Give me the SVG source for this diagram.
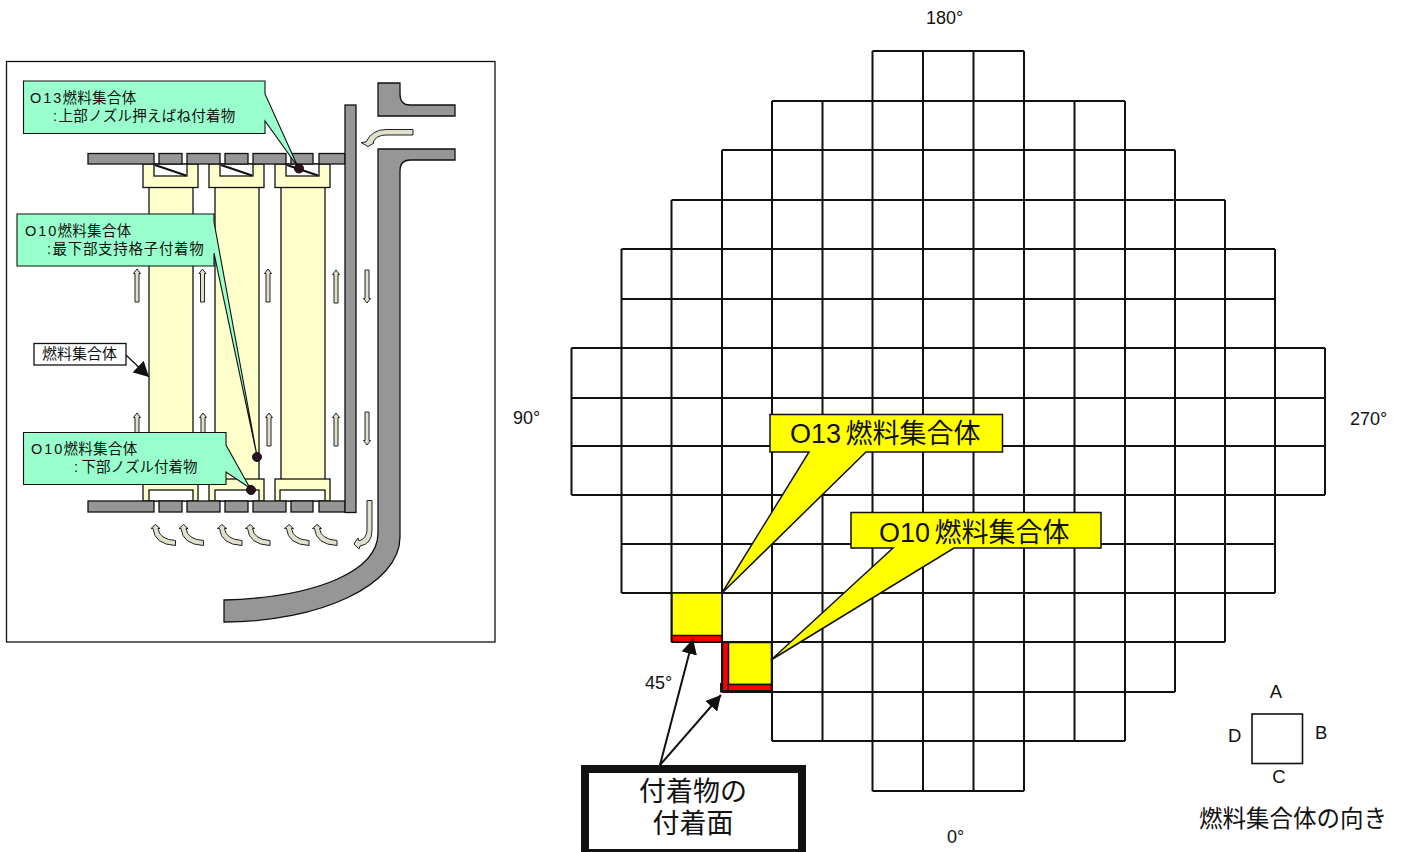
<svg xmlns="http://www.w3.org/2000/svg" width="1405" height="852" viewBox="0 0 1405 852">
<style>
text{font-family:"Liberation Sans","Noto Sans CJK JP",sans-serif;fill:#111}
.cjk{font-family:"Noto Sans CJK JP","Liberation Sans",sans-serif}
.s{font-size:14.5px}
.ax{font-size:18px}
.big{font-size:27px}
.gray{fill:#969696;stroke:#111;stroke-width:1.3}
.cream{fill:#ffffcc;stroke:#111;stroke-width:1.3}
.white{fill:#fff;stroke:#111;stroke-width:1.3}
.flow{fill:#e0e0cc;stroke:#222;stroke-width:1}
.note{fill:#99ffcc;stroke:#111;stroke-width:1.1}
.yel{fill:#ff0;stroke:#111;stroke-width:1.5}
.red{fill:#f00;stroke:#111;stroke-width:1.5}
.dot{fill:#2a1020;stroke:#111;stroke-width:1}
.ln{fill:none;stroke:#111;stroke-width:2}
</style>
<defs>
<marker id="head" markerUnits="userSpaceOnUse" markerWidth="16" markerHeight="16" refX="15" refY="8" orient="auto"><path d="M0,0L15,8L0,16Z" fill="#111"/></marker>
<path id="up" class="flow" d="M0,0L3.5,4.5H2V33H-2V4.5H-3.5Z"/>
<path id="dn" class="flow" d="M0,33L3.5,28.5H2V0H-2V28.5H-3.5Z"/>
<path id="cv" class="flow" d="M0,0L4.5,4H2.5Q4,15 20,16V21Q-1,20 -2.5,4H-4.5Z"/>
</defs>
<rect width="1405" height="852" fill="#fff"/>
<g id="section-frame"><rect x="6.5" y="61.5" width="488.5" height="580.5" fill="#fff" stroke="#111" stroke-width="1.3"/></g>
<g id="fuel-assembly-1">
<rect class="cream" x="149" y="187" width="44" height="293"/>
<rect class="cream" x="143" y="164" width="55" height="23.5"/><rect class="white" x="154" y="164" width="33" height="12"/><path d="M155,165L186,175.5" stroke="#111" stroke-width="2"/>
<rect class="cream" x="143" y="479" width="55" height="22"/><rect class="white" x="149" y="490" width="44" height="11"/>
</g>
<g id="fuel-assembly-2">
<rect class="cream" x="215" y="187" width="44" height="293"/>
<rect class="cream" x="209" y="164" width="55" height="23.5"/><rect class="white" x="220" y="164" width="33" height="12"/><path d="M221,165L252,175.5" stroke="#111" stroke-width="2"/>
<rect class="cream" x="209" y="479" width="55" height="22"/><rect class="white" x="215" y="490" width="44" height="11"/>
</g>
<g id="fuel-assembly-3">
<rect class="cream" x="281" y="187" width="44" height="293"/>
<rect class="cream" x="275" y="164" width="55" height="23.5"/><rect class="white" x="286" y="164" width="33" height="12"/><path d="M287,165L318,175.5" stroke="#111" stroke-width="2"/>
<rect class="cream" x="275" y="479" width="55" height="22"/><rect class="white" x="280" y="490" width="45" height="11"/>
</g>
<g id="upper-plate">
<rect class="gray" x="88" y="153.5" width="66" height="10.5"/><rect class="gray" x="159" y="153.5" width="23" height="10.5"/><rect class="gray" x="187" y="153.5" width="33" height="10.5"/><rect class="gray" x="225" y="153.5" width="23" height="10.5"/><rect class="gray" x="253" y="153.5" width="33" height="10.5"/><rect class="gray" x="291" y="153.5" width="22" height="10.5"/><rect class="gray" x="319" y="153.5" width="26" height="10.5"/>
</g>
<g id="lower-plate">
<rect class="gray" x="88" y="501" width="66" height="11"/><rect class="gray" x="159" y="501" width="23" height="11"/><rect class="gray" x="187" y="501" width="33" height="11"/><rect class="gray" x="225" y="501" width="23" height="11"/><rect class="gray" x="253" y="501" width="33" height="11"/><rect class="gray" x="291" y="501" width="22" height="11"/><rect class="gray" x="319" y="501" width="26" height="11"/>
</g>
<g id="core-barrel"><rect class="gray" x="345" y="105" width="11" height="407.5"/></g>
<g id="vessel">
<path class="gray" d="M378,116V83H400V94Q400,105 410,105H455V116Z"/>
<path class="gray" d="M378,149H455V160H410Q400,160 400,171V537C400,585 320,622 224,622V600C320,597 378,570 378,533Z"/>
</g>
<g id="flow-arrows">
<use href="#up" x="137" y="269"/><use href="#up" x="202.5" y="269"/><use href="#up" x="268" y="269"/><use href="#up" x="336" y="270"/><use href="#dn" x="367" y="270"/>
<use href="#up" x="137" y="413"/><use href="#up" x="203" y="413"/><use href="#up" x="269" y="413"/><use href="#up" x="336" y="413"/><use href="#dn" x="367" y="412"/>
<use href="#cv" x="155.5" y="524.5"/><use href="#cv" x="183.5" y="524.5"/><use href="#cv" x="222" y="524.5"/><use href="#cv" x="250" y="524.5"/><use href="#cv" x="289" y="524.5"/><use href="#cv" x="317" y="524.5"/>
<path class="flow" d="M367,500.5H372V530Q372,544 360,546L359,549L354,544L358,538L359,541Q367,538 367,530Z"/>
<path class="flow" d="M413,129.5V135H386Q376,135 373,142.5L374,143L368,146.5L361,142.5L366,142Q372,129.5 386,129.5Z"/>
</g>
<g id="label-o13-spring">
<path class="note" d="M23.5,81H265V94L298,167L265,121V133.5H23.5Z"/>
<text class="s" x="30" y="103"><tspan letter-spacing="2">O13</tspan><tspan class="cjk" x="62.5" letter-spacing=".3">燃料集合体</tspan></text>
<text class="s" x="53" y="121">:<tspan x="58.5" letter-spacing=".25">上部ノズル押えばね付着物</tspan></text>
</g>
<g id="label-o10-grid">
<path class="note" d="M17,214H214V222L257,456L214,253V266H17Z"/>
<text class="s" x="25" y="236"><tspan letter-spacing="2">O10</tspan><tspan class="cjk" x="57.5" letter-spacing=".3">燃料集合体</tspan></text>
<text class="s" x="47" y="254">:<tspan x="52.5" letter-spacing=".7">最下部支持格子付着物</tspan></text>
</g>
<g id="label-o10-nozzle">
<path class="note" d="M23.5,432.5H226V445L250,488L226,472V484.5H23.5Z"/>
<text class="s" x="31" y="454"><tspan letter-spacing="2">O10</tspan><tspan class="cjk" x="63.5" letter-spacing=".3">燃料集合体</tspan></text>
<text class="s" x="74" y="472">:<tspan x="81.5">下部ノズル付着物</tspan></text>
</g>
<g id="deposit-marks">
<circle class="dot" cx="299" cy="168.5" r="4.5"/><circle class="dot" cx="257" cy="457" r="4.5"/><circle class="dot" cx="251" cy="490" r="4.5"/>
</g>
<g id="label-assembly">
<rect x="34" y="343.5" width="92" height="21.5" fill="#fff" stroke="#111" stroke-width="1.3"/>
<text class="cjk" x="42" y="359" font-size="15">燃料集合体</text>
<path class="ln" style="stroke-width:1.3" d="M126,355L149,377" marker-end="url(#head)"/>
</g>
<g id="core-map">
<path class="ln" d="M872.5,51H1024M772,101H1125M722,150H1175M671.5,200H1225M621.5,249H1275M621.5,299H1275M571.5,348H1325M571.5,398H1325M571.5,446H1325M571.5,495H1325M621.5,544H1275M621.5,593H1275M671.5,642H1225M722,692H1175M772,741H1125M872.5,791H1024M571.5,348V495M621.5,249V593M671.5,200V642M722,150V692M772,101V741M822.5,101V741M872.5,51V791M923,51V791M973.5,51V791M1024,51V791M1074.5,101V741M1125,101V741M1175,150V692M1225,200V642M1275,249V593M1325,348V495"/>
</g>
<g id="assembly-o13-cell">
<rect class="yel" x="672" y="593" width="50" height="43"/><rect class="red" x="672" y="635.5" width="50" height="6.5"/>
</g>
<g id="assembly-o10-cell">
<rect class="yel" x="728" y="642.5" width="43.5" height="42"/><rect class="red" x="722.5" y="642.5" width="6" height="48.5"/><rect class="red" x="728" y="684.5" width="43.5" height="6.5"/>
<path d="M721,683V691.5H772" fill="none" stroke="#111" stroke-width="2"/>
</g>
<g id="callout-o13">
<path class="yel" d="M770,414.5H1002.5V452H866L722,593L809,452H770Z"/>
<text class="big" x="790" y="443">O13<tspan class="cjk" x="845.5">燃料集合体</tspan></text>
</g>
<g id="callout-o10">
<path class="yel" d="M851,512.5H1101V548H954L771,660L893,548H851Z"/>
<text class="big" x="879" y="542">O10<tspan class="cjk" x="934.5">燃料集合体</tspan></text>
</g>
<g id="axis-labels">
<text class="ax" x="926" y="24">180°</text>
<text class="ax" x="513" y="424">90°</text>
<text class="ax" x="1350" y="425">270°</text>
<text class="ax" x="947" y="843">0°</text>
<text class="ax" x="645" y="689">45°</text>
</g>
<g id="deposit-note">
<rect x="585" y="769" width="217" height="84" fill="#fff" stroke="#111" stroke-width="8"/>
<text class="big cjk" x="693" y="801" text-anchor="middle">付着物の</text>
<text class="big cjk" x="693" y="833" text-anchor="middle">付着面</text>
</g>
<g id="connectors">
<path class="ln" d="M660,765L693,639" marker-end="url(#head)"/>
<path class="ln" d="M660,765L721,695" marker-end="url(#head)"/>
</g>
<g id="orientation-key">
<rect x="1252" y="714" width="50.5" height="49.5" fill="#fff" stroke="#111" stroke-width="1.6"/>
<text x="1276" y="698" font-size="18.5" text-anchor="middle">A</text>
<text x="1315" y="739" font-size="18.5">B</text>
<text x="1279" y="783" font-size="18.5" text-anchor="middle">C</text>
<text x="1228" y="742" font-size="18.5">D</text>
<text class="cjk" x="1199" y="827" font-size="23.5">燃料集合体の向き</text>
</g>
</svg>
